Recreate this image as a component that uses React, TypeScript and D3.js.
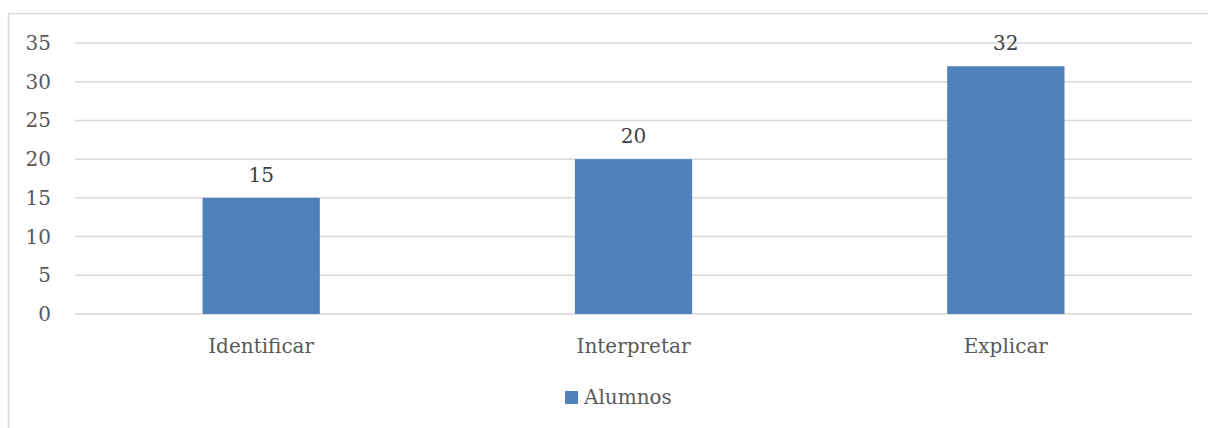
import React from "react";
import * as d3 from "d3";

const categories = ["Identificar", "Interpretar", "Explicar"];
const alumnos = [15, 20, 32];
const yTicks = [0, 5, 10, 15, 20, 25, 30, 35];
const seriesName = "Alumnos";

const W = 1208;
const H = 428;
const plot = { left: 75, right: 1192, top: 43, bottom: 314 };
const font = "'DejaVu Serif', serif";
const textColor = "#595959";
const gridColor = "#d9d9d9";
const barColor = "#4f81bd";

export default function App() {
  const x = d3
    .scaleBand<string>()
    .domain(categories)
    .range([plot.left, plot.right])
    .paddingInner(0.685)
    .paddingOuter(0.3425);
  const y = d3.scaleLinear().domain([0, 35]).range([plot.bottom, plot.top]);

  return (
    <svg
      width={W}
      height={H}
      style={{ position: "absolute", left: 0, top: 0, background: "#fff" }}
      fontFamily={font}
    >
      <rect x={8.5} y={13.5} width={1300} height={600} fill="#fff" stroke={gridColor} strokeWidth={1.5} />
      {yTicks.map((t) => (
        <g key={t}>
          <line x1={plot.left} x2={plot.right} y1={y(t)} y2={y(t)} stroke={gridColor} strokeWidth={1.5} />
          <text x={51} y={y(t)} dy="0.35em" textAnchor="end" fontSize={20} fill={textColor}>
            {t}
          </text>
        </g>
      ))}
      {categories.map((c, i) => (
        <g key={c}>
          <rect x={x(c)} y={y(alumnos[i])} width={x.bandwidth()} height={y(0) - y(alumnos[i])} fill={barColor} />
          <text
            x={(x(c) as number) + x.bandwidth() / 2}
            y={y(alumnos[i]) - 16}
            textAnchor="middle"
            fontSize={20}
            fill="#404040"
          >
            {alumnos[i]}
          </text>
          <text
            x={(x(c) as number) + x.bandwidth() / 2}
            y={353}
            textAnchor="middle"
            fontSize={20}
            fill={textColor}
          >
            {c}
          </text>
        </g>
      ))}
      <rect x={565} y={391} width={13} height={13} fill={barColor} />
      <text x={584} y={404} fontSize={20} fill={textColor}>
        {seriesName}
      </text>
    </svg>
  );
}
